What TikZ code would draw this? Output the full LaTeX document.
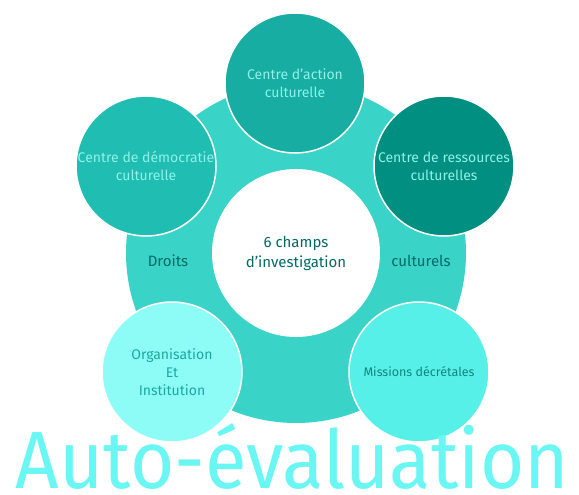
\documentclass[tikz,border=0pt]{standalone}
\usepackage{fontspec}
\setmainfont{Fira Sans}
\usepackage{graphicx}
\usetikzlibrary{positioning}

\definecolor{anneau}{HTML}{3AD3C8}
\definecolor{action}{HTML}{17ADA2}
\definecolor{democratie}{HTML}{20BDB2}
\definecolor{ressources}{HTML}{008F80}
\definecolor{organisation}{HTML}{8DFCF6}
\definecolor{missions}{HTML}{56F0E8}
\definecolor{titre}{HTML}{6AF6F2}
\definecolor{texteClair}{HTML}{8EF2E8}
\definecolor{texteFonce}{HTML}{006B66}
\definecolor{texteMoyen}{HTML}{1AA99F}

\tikzset{
  champ/.style={circle,draw=white,line width=1.5pt,minimum size=140pt,inner sep=0pt,
    align=center,font=\fontsize{14}{18}\selectfont},
  mot/.style={font=\fontsize{15}{20}\selectfont,text=texteFonce,inner sep=0pt},
}

\begin{document}
\begin{tikzpicture}[line cap=round,line join=round,x=1pt,y=-1pt]
\useasboundingbox (0,0) rectangle (579,495);
%anneau
\fill[anneau] (296,253) circle (170);
\node[circle,fill=white,minimum size=168pt,inner sep=0pt,align=center,
  font=\fontsize{15}{20}\selectfont,text=texteFonce] (centre) at (296,253) {6 champs\\d'investigation};
\node[mot] (droits) at (168,261) {Droits};
\node[mot] (culturels) at (421,261) {culturels};
%les cercles
\node[champ,fill=action,text=texteClair] (action) at (295,83) {Centre d'action\\culturelle};
\node[champ,fill=democratie,text=texteClair] (democratie) at (146,166) {Centre de démocratie\\culturelle};
\node[champ,fill=ressources,text=texteClair] (ressources) at (444,166) {Centre de ressources\\culturelles};
\node[champ,fill=organisation,text=texteMoyen] (organisation) at (172,372) {Organisation\\Et\\Institution};
\node[champ,fill=missions,text=texteFonce!80!missions,font=\fontsize{12.5}{18}\selectfont] (missions) at (419,372) {Missions décrétales};
%titre
\node[anchor=base,inner sep=0pt,text=titre] (autoeval) at (292.5,488.5)
  {\resizebox{553pt}{65pt}{Auto-évaluation}};
\end{tikzpicture}
\end{document}
